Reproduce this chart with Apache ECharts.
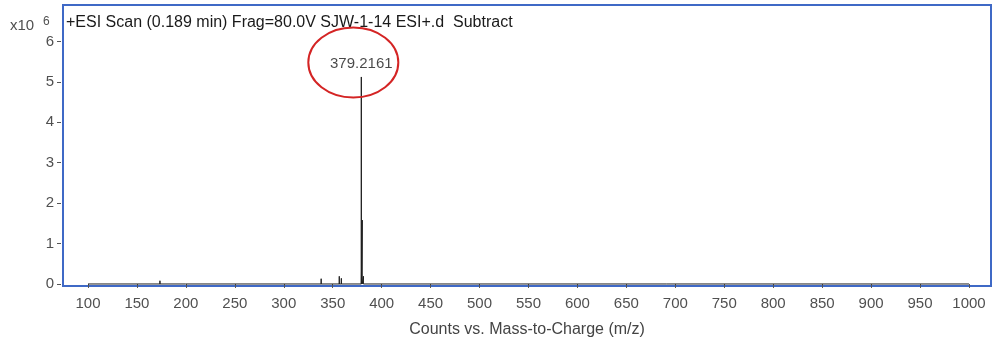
<html>
<meta charset="UTF-8">
<head>
    <script src="https://cdn.jsdelivr.net/npm/echarts@6/dist/echarts.min.js"></script>
</head>
<body style="margin:0;background:#fff">

<div id="msChart" style="width:993px;height:342px"></div>

</body>
<script>
    // centroid peaks, m/z and counts (x10^6)
    var peakMz = [173.5, 199.8, 338.2, 356.7, 358.8, 379.2161, 380.2, 381.4];
    var peakCounts = [0.08, 0.03, 0.13, 0.19, 0.14, 5.12, 1.58, 0.19];
    var scanRange = [100, 1000];
    var xTicks = [100, 150, 200, 250, 300, 350, 400, 450, 500, 550, 600, 650, 700, 750, 800, 850, 900, 950, 1000];
    var yTicks = [0, 1, 2, 3, 4, 5, 6];
    var labelFont = 'Liberation Sans, Arial, sans-serif';

    var msChart = echarts.init(document.getElementById('msChart'));

    // base peak gets the label
    var baseIdx = 0;
    for (var i = 1; i < peakCounts.length; i++) {
        if (peakCounts[i] > peakCounts[baseIdx]) baseIdx = i;
    }

    // draw each centroid as a stick from the baseline
    var sticks = [[scanRange[0], 0]];
    for (var i = 0; i < peakMz.length; i++) {
        sticks.push([peakMz[i], 0]);
        sticks.push([peakMz[i], peakCounts[i]]);
        sticks.push([peakMz[i], 0]);
    }
    sticks.push([scanRange[1], 0]);

    function headerTexts() {
        return [
            {type: 'text', left: 10, top: 18, style: {text: 'x10', fill: '#505050', font: '15px ' + labelFont}},
            {type: 'text', left: 43, top: 16, style: {text: '6', fill: '#505050', font: '12px ' + labelFont}},
            {type: 'text', left: 66, top: 15, style: {text: '+ESI Scan (0.189 min) Frag=80.0V SJW-1-14 ESI+.d  Subtract', fill: '#1a1a1a', font: '16px ' + labelFont}}
        ];
    }

    msChart.setOption({
        animation: false,
        grid: {
            left: 63, right: 2, top: 5, bottom: 56,
            outerBoundsMode: 'none',
            show: true,
            borderColor: '#3f69c6',
            borderWidth: 2,
            backgroundColor: '#fff'
        },
        xAxis: {
            type: 'value',
            min: 74.46,
            max: 1022.5,
            offset: 4,
            name: 'Counts vs. Mass-to-Charge (m/z)',
            nameLocation: 'middle',
            nameGap: 32,
            nameTextStyle: {color: '#444', fontSize: 16, fontFamily: labelFont},
            axisLine: {show: false},
            splitLine: {show: false},
            axisTick: {show: true, length: 4, customValues: xTicks, lineStyle: {color: '#555'}},
            axisLabel: {
                customValues: xTicks, margin: 6, color: '#505050', fontSize: 15, fontFamily: labelFont,
                formatter: function (v) { return String(v); }
            }
        },
        yAxis: {
            type: 'value',
            min: -0.05,
            max: 6.9,
            offset: 2,
            axisLine: {show: false},
            splitLine: {show: false},
            axisTick: {show: true, length: 4, customValues: yTicks, lineStyle: {color: '#555'}},
            axisLabel: {customValues: yTicks, margin: 7, color: '#505050', fontSize: 15, fontFamily: labelFont}
        },
        series: [{
            type: 'line',
            data: sticks,
            showSymbol: false,
            symbol: 'none',
            lineStyle: {color: '#1e1e1e', width: 1},
            z: 3
        }, {
            type: 'scatter',
            data: [[peakMz[baseIdx], peakCounts[baseIdx]]],
            symbolSize: 1,
            itemStyle: {color: 'rgba(0,0,0,0)'},
            label: {
                show: true,
                position: 'top',
                distance: 5,
                formatter: peakMz[baseIdx].toFixed(4),
                color: '#1a1a1a',
                fontSize: 15,
                fontFamily: labelFont
            },
            z: 4
        }],
        graphic: headerTexts()
    });

    // red ring around the base peak label
    var tip = msChart.convertToPixel({gridIndex: 0}, [peakMz[baseIdx], peakCounts[baseIdx]]);
    var gfx = headerTexts();
    gfx.push({
        type: 'ellipse',
        shape: {cx: tip[0] - 8, cy: tip[1] - 14.5, rx: 45, ry: 35},
        style: {fill: 'none', stroke: '#d42424', lineWidth: 2},
        z: 10
    });
    msChart.setOption({graphic: gfx}, {replaceMerge: ['graphic']});
</script>
</html>
